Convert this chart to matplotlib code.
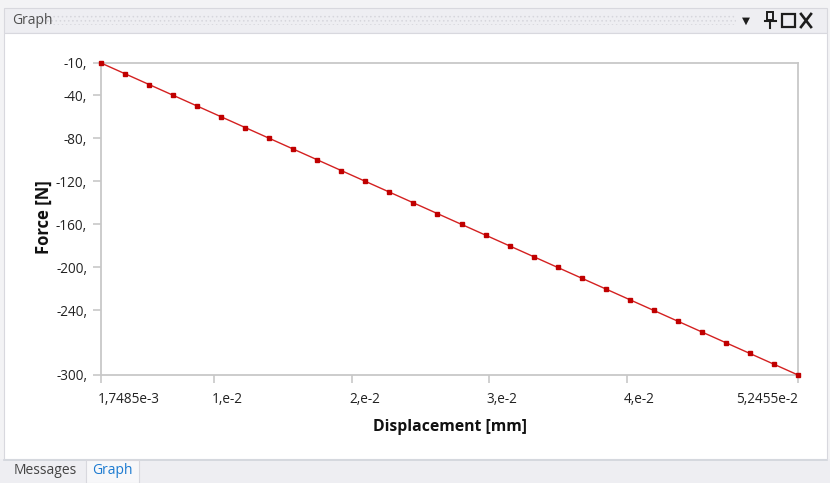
import matplotlib
matplotlib.use("Agg")
import matplotlib.pyplot as plt
import matplotlib.transforms as mtransforms
from matplotlib.patches import Rectangle
from matplotlib.lines import Line2D

# ---- data ----
displacement = [0.0017485, 0.003497, 0.0052455, 0.006994, 0.0087425, 0.010491,
                0.0122395, 0.013988, 0.0157365, 0.017485, 0.0192335, 0.020982,
                0.0227305, 0.024479, 0.0262275, 0.027976, 0.0297245, 0.031473,
                0.0332215, 0.03497, 0.0367185, 0.038467, 0.0402155, 0.041964,
                0.0437125, 0.045461, 0.0472095, 0.048958, 0.0507065, 0.052455]
force = [-10, -20, -30, -40, -50, -60, -70, -80, -90, -100, -110, -120, -130,
         -140, -150, -160, -170, -180, -190, -200, -210, -220, -230, -240,
         -250, -260, -270, -280, -290, -300]
x_ticks = [0.0017485, 0.01, 0.02, 0.03, 0.04, 0.052455]
x_tick_labels = ["1,7485e-3", "1,e-2", "2,e-2", "3,e-2", "4,e-2", "5,2455e-2"]
y_ticks = [-10, -40, -80, -120, -160, -200, -240, -300]
y_tick_labels = ["-10,", "-40,", "-80,", "-120,", "-160,", "-200,", "-240,", "-300,"]
x_label = "Displacement [mm]"
y_label = "Force [N]"
panel_title = "Graph"
tabs = ["Messages", "Graph"]

W, H = 830, 483
FONT = ["Open Sans", "DejaVu Sans"]
plt.rcParams["font.family"] = FONT

fig = plt.figure(figsize=(W / 100, H / 100), dpi=100)
fig.patch.set_facecolor("#f3f3f5")


def fx(x):
    return x / W


def fy(y):
    return 1 - y / H


def rect(x0, y0, x1, y1, zorder=-5, **kw):
    fig.patches.append(Rectangle((fx(x0), fy(y1)), fx(x1) - fx(x0), fy(y0) - fy(y1),
                                 transform=fig.transFigure, zorder=zorder, **kw))


def line(xs, ys, **kw):
    fig.lines.append(Line2D([fx(x) for x in xs], [fy(y) for y in ys],
                            transform=fig.transFigure, zorder=-4, **kw))


# ---- window chrome ----
rect(4, 8, 827, 33, facecolor="#eeeef2", edgecolor="#d8d8de", linewidth=0.8)
rect(4, 33, 827, 459, facecolor="white", edgecolor="#d8d8de", linewidth=0.8)
plt.rcParams["hatch.linewidth"] = 0.6
rect(38, 15, 736, 25, zorder=-4, facecolor="none", edgecolor="#d6d6dc", hatch="....", linewidth=0)
fig.text(fx(12), fy(20.5), panel_title, fontsize=10, color="#505050", ha="left", va="center")
# dropdown arrow
fig.text(fx(746), fy(21), "▼", fontsize=7.5, color="#1e1e1e", ha="center", va="center",
         family=["DejaVu Sans"])
# pin icon
rect(767, 12, 773, 20, zorder=-3, facecolor="none", edgecolor="#1e1e1e", linewidth=1.4)
line([764.5, 775.5], [20.5, 20.5], color="#1e1e1e", linewidth=1.5)
line([770, 770], [20.5, 27.5], color="#1e1e1e", linewidth=1.5)
# maximize box
rect(782, 14, 795, 27, zorder=-3, facecolor="none", edgecolor="#1e1e1e", linewidth=1.6)
# close
line([801, 811], [14, 27], color="#1e1e1e", linewidth=1.9)
line([801, 811], [27, 14], color="#1e1e1e", linewidth=1.9)

# bottom tabs
rect(0, 459, 830, 483, facecolor="#eeeef2", edgecolor="none")
line([4, 827], [459.5, 459.5], color="#d0d4da", linewidth=1.2)
rect(86, 460, 139, 483, zorder=-3, facecolor="#f7f7f9", edgecolor="#d8d8de", linewidth=0.8)
fig.text(fx(45), fy(471), tabs[0], fontsize=10, color="#444444", ha="center", va="center")
fig.text(fx(112.5), fy(471), tabs[1], fontsize=10, color="#1c7ad0", ha="center", va="center")

# ---- plot ----
ax = fig.add_axes([fx(101), fy(375), fx(798) - fx(101), fy(63) - fy(375)])
ax.set_zorder(1)
ax.set_facecolor("white")
ax.plot(displacement, force, color="#d42020", linewidth=1.0, marker="s",
        markersize=2.3, markerfacecolor="#c00000", markeredgecolor="#c00000",
        clip_on=False, zorder=3)
ax.set_xlim(displacement[0], displacement[-1])
ax.set_ylim(force[-1], force[0])

ax.set_xticks(x_ticks)
ax.set_xticklabels(x_tick_labels)
ax.set_yticks(y_ticks)
ax.set_yticklabels(y_tick_labels)

ax.tick_params(axis="both", direction="out", length=6, width=1.2, color="#c8c8c8",
               labelsize=9.8, labelcolor="#222222")
ax.tick_params(axis="x", pad=6)
ax.tick_params(axis="y", pad=4)
for s in ax.spines.values():
    s.set_color("#c8c8c8")
    s.set_linewidth(1.3)

offset = mtransforms.ScaledTranslation(-3 / 100, 0, fig.dpi_scale_trans)
labels = ax.get_xticklabels()
for i, t in enumerate(labels):
    if i == len(labels) - 1:
        t.set_horizontalalignment("right")
    else:
        t.set_horizontalalignment("left")
        t.set_transform(t.get_transform() + offset)

fig.text(fx(449.5), fy(427), x_label, fontsize=11.3, fontweight="bold", color="#111111",
         ha="center", va="center")
fig.text(fx(43.5), fy(217.5), y_label, fontsize=12, fontweight="bold", color="#111111",
         ha="center", va="center", rotation=90)

fig.savefig("out.png", dpi=100, facecolor=fig.get_facecolor())
